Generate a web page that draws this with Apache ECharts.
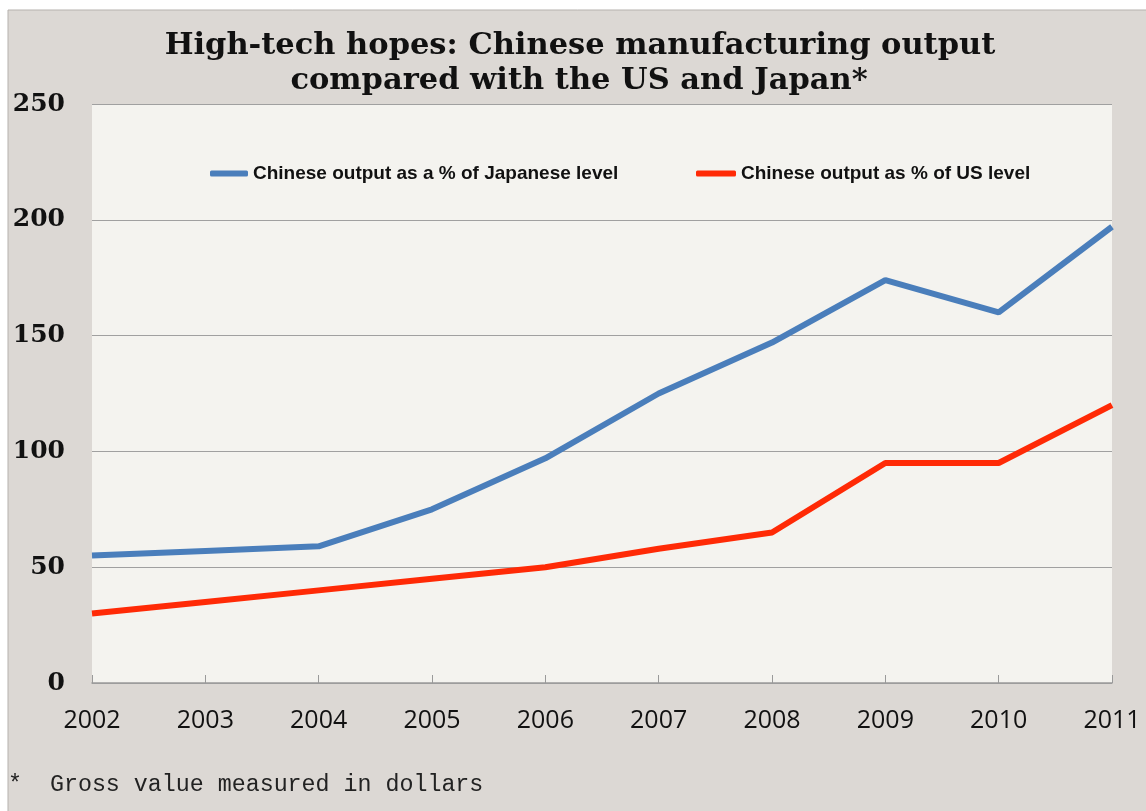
<!DOCTYPE html>
<html>
<head>
<meta charset="utf-8">
<script src="https://cdn.jsdelivr.net/npm/echarts@6/dist/echarts.min.js"></script>
<style>
html,body{margin:0;padding:0;background:#fff;}
#chart{width:1146px;height:811px;}
</style>
</head>
<body>
<div id="chart"></div>
<script>
const years = ['2002','2003','2004','2005','2006','2007','2008','2009','2010','2011'];
const japanPct = [55, 57, 59, 75, 97, 125, 147, 174, 160, 197];
const usPct = [30, 35, 40, 45, 50, 58, 65, 95, 95, 120];
const seriesNames = ['Chinese output as a % of Japanese level', 'Chinese output as % of US level'];
const titleLines = ['High-tech hopes: Chinese manufacturing output', 'compared with the US and Japan*'];
const footnote = '*  Gross value measured in dollars';

const chart = echarts.init(document.getElementById('chart'), null, {renderer: 'canvas'});
const legendText = {fontFamily: 'Liberation Sans', fontWeight: 'bold', fontSize: 19, color: '#111'};
chart.setOption({
  backgroundColor: '#fff',
  animation: false,
  graphic: [
    {type: 'rect', z: -10, shape: {x: 8, y: 10, width: 1150, height: 810},
     style: {fill: '#dcd8d4', stroke: '#b5b1ad', lineWidth: 1}},
    {type: 'text', x: 580, y: 46, style: {text: titleLines[0], textAlign: 'center', textVerticalAlign: 'middle',
     font: 'bold 30.5px "DejaVu Serif"', fill: '#111'}},
    {type: 'text', x: 579, y: 81, style: {text: titleLines[1], textAlign: 'center', textVerticalAlign: 'middle',
     font: 'bold 30.5px "DejaVu Serif"', fill: '#111'}},
    {type: 'text', x: 8, y: 785, style: {text: footnote, textAlign: 'left', textVerticalAlign: 'middle',
     font: '23.3px "Liberation Mono"', fill: '#222'}}
  ],
  grid: {left: 92, top: 104, right: 34, bottom: 128, show: true, backgroundColor: '#f4f3ef', borderWidth: 0},
  legend: [
    {data: [seriesNames[0]], left: 210, top: 164, icon: 'roundRect', itemWidth: 38, itemHeight: 6, itemGap: 2,
     textStyle: legendText, padding: 0},
    {data: [seriesNames[1]], left: 696, top: 164, icon: 'roundRect', itemWidth: 40, itemHeight: 6, itemGap: 2,
     textStyle: legendText, padding: 0}
  ],
  xAxis: {
    type: 'category', data: years, boundaryGap: false,
    axisLine: {lineStyle: {color: '#9a9a9a', width: 1.5}},
    axisTick: {inside: true, length: 8, lineStyle: {color: '#9a9a9a'}},
    axisLabel: {fontFamily: 'Open Sans', fontSize: 25, color: '#111', margin: 25},
    splitLine: {show: false}
  },
  yAxis: {
    type: 'value', min: 0, max: 250, interval: 50,
    axisLine: {show: false}, axisTick: {show: false},
    axisLabel: {fontFamily: 'DejaVu Serif', fontWeight: 'bold', fontSize: 25, color: '#111', margin: 27},
    splitLine: {lineStyle: {color: '#a0a0a0', width: 1}}
  },
  series: [
    {name: seriesNames[0], type: 'line', data: japanPct, symbol: 'none', color: '#4a7ebb',
     lineStyle: {width: 6, color: '#4a7ebb'}},
    {name: seriesNames[1], type: 'line', data: usPct, symbol: 'none', color: '#ff2a06',
     lineStyle: {width: 6, color: '#ff2a06'}}
  ]
});
</script>
</body>
</html>
